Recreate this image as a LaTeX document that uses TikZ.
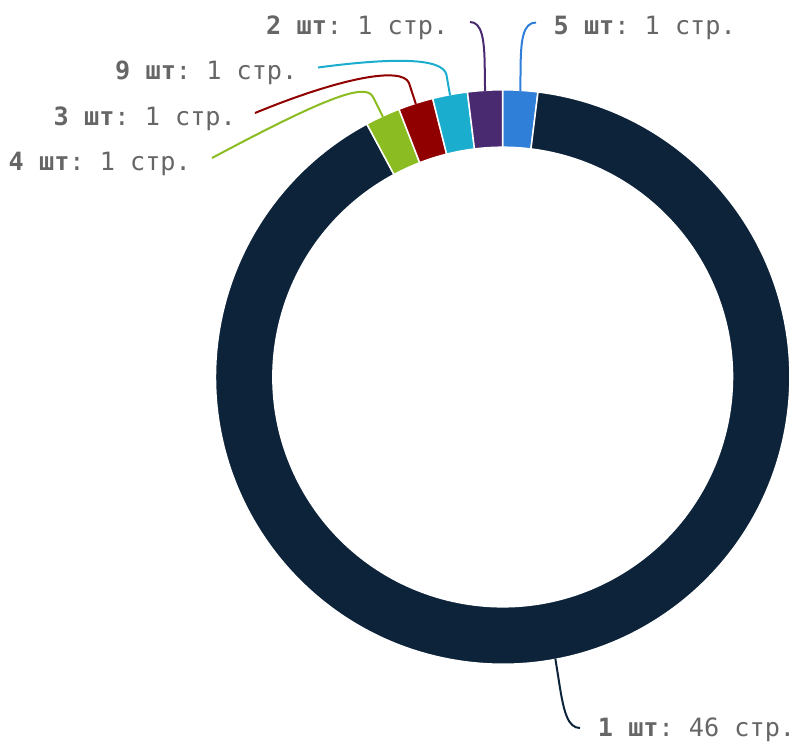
\documentclass[tikz,border=0pt]{standalone}
\usepackage{fontspec}
\setmonofont{DejaVu Sans Mono}
\usepackage{tikz}
\usepackage{xcolor}
\definecolor{pie-dark}{HTML}{0D233A}
\definecolor{pie-blue}{HTML}{2F7ED8}
\definecolor{pie-green}{HTML}{8BBC21}
\definecolor{pie-red}{HTML}{910000}
\definecolor{pie-cyan}{HTML}{1AADCE}
\definecolor{pie-purple}{HTML}{492970}
\definecolor{label-grey}{HTML}{666666}
\tikzset{
    slice/.style = {draw=white, line width=1.5pt, line join=round},
    data-label/.style = {text=label-grey, font=\ttfamily\fontsize{25.2}{28}\selectfont, inner sep=0pt},
    connector/.style = {line width=2pt},
}

\begin{document}
\begin{tikzpicture}[x=1pt, y=1pt]
\useasboundingbox (0,0) rectangle (794,742);
\coordinate (c) at (502.7,365);

% donut slices
\path[slice, fill=pie-blue] ([shift={(90:287.2)}]c) arc[start angle=90, end angle=82.941, radius=287.2] -- ([shift={(82.941:229.8)}]c) arc[start angle=82.941, end angle=90, radius=229.8] -- cycle;
\path[slice, fill=pie-dark] ([shift={(82.941:287.2)}]c) arc[start angle=82.941, end angle=-241.765, radius=287.2] -- ([shift={(-241.765:229.8)}]c) arc[start angle=-241.765, end angle=82.941, radius=229.8] -- cycle;
\path[slice, fill=pie-green] ([shift={(-241.765:287.2)}]c) arc[start angle=-241.765, end angle=-248.824, radius=287.2] -- ([shift={(-248.824:229.8)}]c) arc[start angle=-248.824, end angle=-241.765, radius=229.8] -- cycle;
\path[slice, fill=pie-red] ([shift={(-248.824:287.2)}]c) arc[start angle=-248.824, end angle=-255.882, radius=287.2] -- ([shift={(-255.882:229.8)}]c) arc[start angle=-255.882, end angle=-248.824, radius=229.8] -- cycle;
\path[slice, fill=pie-cyan] ([shift={(-255.882:287.2)}]c) arc[start angle=-255.882, end angle=-262.941, radius=287.2] -- ([shift={(-262.941:229.8)}]c) arc[start angle=-262.941, end angle=-255.882, radius=229.8] -- cycle;
\path[slice, fill=pie-purple] ([shift={(-262.941:287.2)}]c) arc[start angle=-262.941, end angle=-270, radius=287.2] -- ([shift={(-270:229.8)}]c) arc[start angle=-270, end angle=-262.941, radius=229.8] -- cycle;

% labels
\node[data-label, anchor=base west] (lbl-five) at (553.5,707.5) {\textbf{5 шт}: 1 стр.};
\node[data-label, anchor=base east] (lbl-two) at (448.5,707.5) {\textbf{2 шт}: 1 стр.};
\node[data-label, anchor=base east] (lbl-nine) at (297.5,662) {\textbf{9 шт}: 1 стр.};
\node[data-label, anchor=base east] (lbl-three) at (236,616.5) {\textbf{3 шт}: 1 стр.};
\node[data-label, anchor=base east] (lbl-four) at (191,571) {\textbf{4 шт}: 1 стр.};
\node[data-label, anchor=base west] (lbl-one) at (597.7,5.3) {\textbf{1 шт}: 46 стр.};

% connector ends
\coordinate (e-blue) at ([shift={(86.47:286.5)}]c);
\coordinate (e-purple) at ([shift={(93.53:286.5)}]c);
\coordinate (e-cyan) at ([shift={(100.59:286.5)}]c);
\coordinate (e-red) at ([shift={(107.65:286.5)}]c);
\coordinate (e-green) at ([shift={(114.71:286.5)}]c);
\coordinate (e-dark) at ([shift={(-79.41:286.5)}]c);
\coordinate (t-blue) at (536,719.5);
\coordinate (t-purple) at (470,720);
\coordinate (t-cyan) at (318,674.5);
\coordinate (t-red) at (255,629);
\coordinate (t-green) at (212,584);
\coordinate (t-dark) at (580,14);

% connectors
\draw[connector, pie-blue] (e-blue) -- (520.6,677) .. controls (521,702) and (523,719.5) .. (t-blue);
\draw[connector, pie-purple] (e-purple) -- (484.7,677) .. controls (484.3,702) and (482,720) .. (t-purple);
\draw[connector, pie-cyan] (e-cyan) -- (446.5,667) .. controls (443,685) and (390,684) .. (t-cyan);
\draw[connector, pie-red] (e-red) -- (409,659) .. controls (402,676) and (340,664) .. (t-red);
\draw[connector, pie-green] (e-green) -- (373,645) .. controls (366,659) and (330,647) .. (t-green);
\draw[connector, pie-dark] (e-dark) -- (560,54) .. controls (564,30) and (568,14) .. (t-dark);
\end{tikzpicture}
\end{document}
